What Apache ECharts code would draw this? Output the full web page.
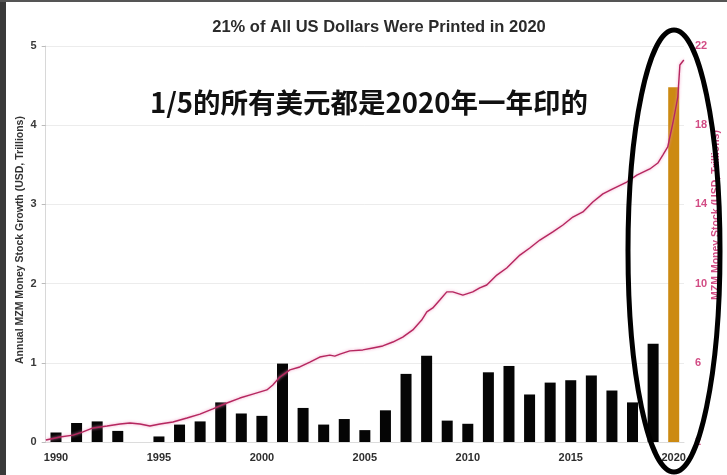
<!DOCTYPE html>
<html>
<head>
<meta charset="utf-8">
<script src="https://cdn.jsdelivr.net/npm/echarts@6/dist/echarts.min.js"></script>
<style>html,body{margin:0;padding:0;background:#fff}#c{width:727px;height:475px}</style>
</head>
<body>
<div id="c"></div>
<script>
const years = [1990,1991,1992,1993,1994,1995,1996,1997,1998,1999,2000,2001,2002,2003,2004,2005,2006,2007,2008,2009,2010,2011,2012,2013,2014,2015,2016,2017,2018,2019,2020];
const growth = [0.12,0.24,0.26,0.14,0,0.07,0.22,0.26,0.50,0.36,0.33,0.99,0.43,0.22,0.29,0.15,0.40,0.86,1.09,0.27,0.23,0.88,0.96,0.60,0.75,0.78,0.84,0.65,0.50,1.24,4.48];
const stockYears = [1989.51,1990.19,1990.83,1991.31,1991.80,1992.48,1993.11,1993.59,1994.08,1994.56,1995.05,1995.68,1996.36,1996.99,1997.62,1998.30,1998.93,1999.56,2000.24,2000.53,2000.87,2001.36,2001.84,2002.33,2002.81,2003.30,2003.54,2003.79,2004.27,2004.90,2005.39,2005.87,2006.36,2006.84,2007.33,2007.76,2008.01,2008.30,2008.64,2008.98,2009.27,2009.76,2010.24,2010.58,2010.92,2011.41,2011.89,2012.53,2013.01,2013.50,2014.13,2014.62,2015.10,2015.59,2016.07,2016.56,2017.04,2017.72,2018.21,2018.84,2019.23,2019.47,2019.71,2019.96,2020.20,2020.30,2020.49];
const stockValues = [2.10,2.25,2.35,2.51,2.71,2.81,2.91,2.96,2.91,2.81,2.91,3.01,3.21,3.41,3.67,3.97,4.22,4.42,4.63,4.88,5.28,5.64,5.79,6.04,6.29,6.39,6.34,6.44,6.60,6.65,6.75,6.85,7.05,7.30,7.66,8.16,8.57,8.77,9.17,9.58,9.58,9.42,9.58,9.78,9.93,10.43,10.79,11.44,11.80,12.20,12.61,12.96,13.36,13.62,14.12,14.53,14.78,15.13,15.48,15.79,16.09,16.49,16.90,18.11,19.42,21.04,21.29];
const leftTicks = [0,1,2,3,4,5];
const rightTicks = [2,6,10,14,18,22];
const highlightYear = 2020;

const chart = echarts.init(document.getElementById('c'));
const barData = growth.map((v,i)=>({value:v, itemStyle:{color: years[i]===highlightYear ? '#cc8a12' : '#050505'}}));
const lineData = stockYears.map((y,i)=>[y, stockValues[i]]);

chart.setOption({
  animation:false,
  backgroundColor:'#fff',
  title:{text:'21% of All US Dollars Were Printed in 2020', left:374, top:14, textAlign:'center',
    textStyle:{fontFamily:'Liberation Sans', fontSize:16.5, fontWeight:'bold', color:'#2b2b2b'}},
  grid:{left:45.7, right:43, top:46, bottom:33},
  xAxis:[
    {type:'category', data:years.map(String), boundaryGap:true,
     axisLine:{show:true, lineStyle:{color:'#dcdcdc'}}, axisTick:{show:false},
     axisLabel:{interval:4, margin:10, fontFamily:'Liberation Sans', fontSize:11, fontWeight:'bold', color:'#2e2e2e'}},
    {type:'value', min:years[0]-0.5, max:years[years.length-1]+0.5, show:false}
  ],
  yAxis:[
    {type:'value', min:leftTicks[0], max:leftTicks[leftTicks.length-1], interval:1, position:'left',
     axisLine:{show:true, lineStyle:{color:'#d8d8d8'}}, axisTick:{show:true, length:4, lineStyle:{color:'#bbb'}},
     splitLine:{show:true, lineStyle:{color:'#ececec'}},
     axisLabel:{margin:9, fontFamily:'Liberation Sans', fontSize:11, fontWeight:'bold', color:'#3a3a3a'}},
    {type:'value', min:rightTicks[0], max:rightTicks[rightTicks.length-1], interval:4, position:'right',
     axisLine:{show:false}, axisTick:{show:false}, splitLine:{show:false},
     axisLabel:{margin:11, fontFamily:'Liberation Sans', fontSize:11, fontWeight:'bold', color:'#d24d85'}}
  ],
  series:[
    {type:'bar', xAxisIndex:0, yAxisIndex:0, data:barData, barWidth:11},
    {type:'line', xAxisIndex:1, yAxisIndex:1, data:lineData, showSymbol:false, smooth:false,
     lineStyle:{color:'#b5275f', width:1.4, shadowColor:'rgba(240,140,185,0.9)', shadowBlur:3}, z:3}
  ],
  graphic:[
    {type:'rect', left:0, top:0, shape:{width:6, height:475}, style:{fill:'#3a3a3a'}, z:50},
    {type:'rect', left:0, top:0, shape:{width:727, height:2}, style:{fill:'#555'}, z:50},
    {type:'text', x:20, y:240, rotation:Math.PI/2,
     style:{text:'Annual MZM Money Stock Growth (USD, Trillions)', fontFamily:'Liberation Sans', fontSize:10.5, fontWeight:'bold', fill:'#333', textAlign:'center', textVerticalAlign:'middle'}},
    {type:'text', x:716, y:215, rotation:Math.PI/2,
     style:{text:'MZM Money Stock (USD, Trillions)', fontFamily:'Liberation Sans', fontSize:10.5, fontWeight:'bold', fill:'#d24d85', textAlign:'center', textVerticalAlign:'middle'}},
    {type:'text', x:150, y:103,
     style:{text:'1/5的所有美元都是2020年一年印的', fontFamily:'"Noto Sans CJK SC"', fontSize:27.5, fontWeight:'bold', fill:'#111', textAlign:'left', textVerticalAlign:'middle'}},
    {type:'ellipse', shape:{cx:674, cy:251, rx:46, ry:221}, style:{fill:'none', stroke:'#000', lineWidth:5}, z:40}
  ]
});
</script>
</body>
</html>
